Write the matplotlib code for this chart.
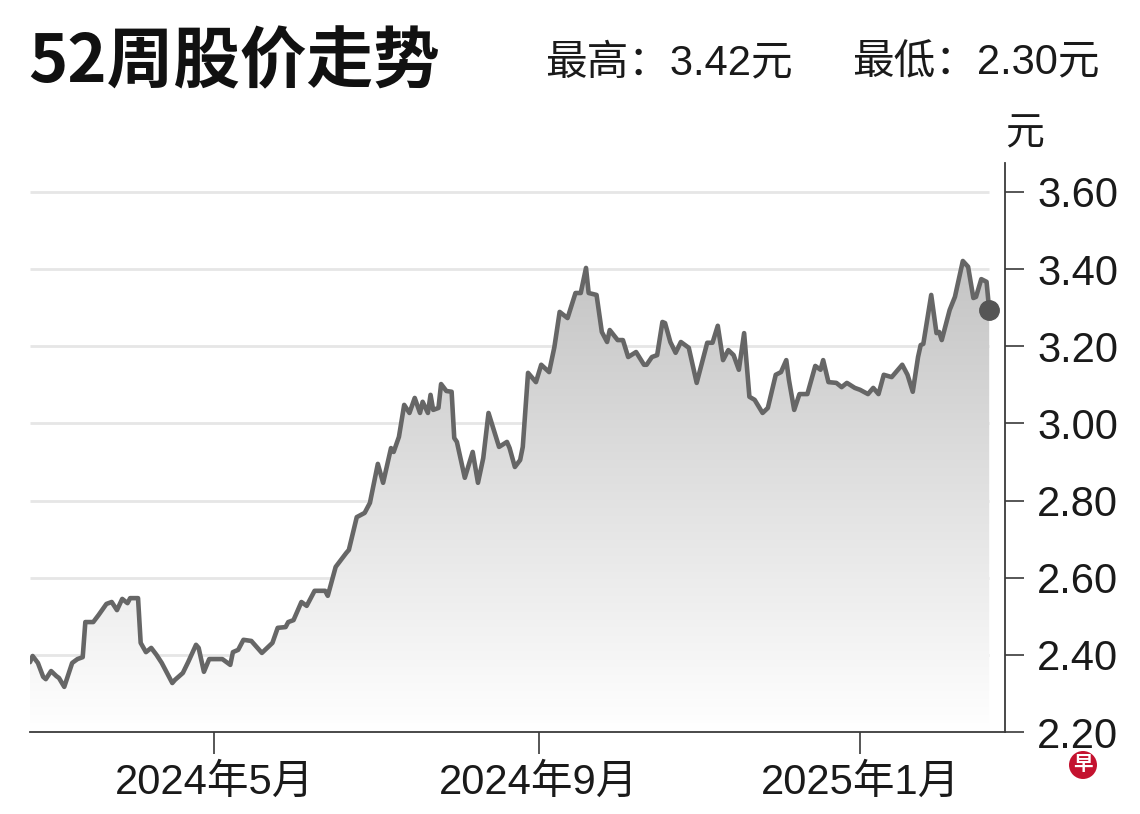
import numpy as np
import pandas as pd
import matplotlib
matplotlib.use('Agg')
import matplotlib.pyplot as plt
import matplotlib.dates as mdates
from matplotlib import font_manager
from matplotlib.colors import LinearSegmentedColormap
from matplotlib.patches import Ellipse

# Datos (precio de cierre aproximado, en 元)
fechas = [
    '2024-02-21', '2024-02-22', '2024-02-24', '2024-02-26', '2024-02-27', '2024-02-29', '2024-03-02', '2024-03-03', '2024-03-05', '2024-03-08',
    '2024-03-10', '2024-03-12', '2024-03-13', '2024-03-16', '2024-03-18', '2024-03-21', '2024-03-23', '2024-03-25', '2024-03-27', '2024-03-29',
    '2024-03-30', '2024-04-02', '2024-04-03', '2024-04-05', '2024-04-07', '2024-04-09', '2024-04-11', '2024-04-15', '2024-04-16', '2024-04-19',
    '2024-04-21', '2024-04-24', '2024-04-25', '2024-04-27', '2024-04-29', '2024-05-04', '2024-05-07', '2024-05-08', '2024-05-10', '2024-05-12',
    '2024-05-15', '2024-05-19', '2024-05-23', '2024-05-25', '2024-05-28', '2024-05-29', '2024-05-31', '2024-06-03', '2024-06-05', '2024-06-08',
    '2024-06-12', '2024-06-13', '2024-06-16', '2024-06-20', '2024-06-21', '2024-06-24', '2024-06-27', '2024-06-29', '2024-07-02', '2024-07-04',
    '2024-07-07', '2024-07-08', '2024-07-10', '2024-07-12', '2024-07-14', '2024-07-16', '2024-07-18', '2024-07-19', '2024-07-21', '2024-07-22',
    '2024-07-23', '2024-07-25', '2024-07-26', '2024-07-28', '2024-07-30', '2024-07-31', '2024-08-01', '2024-08-04', '2024-08-07', '2024-08-09',
    '2024-08-11', '2024-08-13', '2024-08-17', '2024-08-20', '2024-08-21', '2024-08-23', '2024-08-25', '2024-08-26', '2024-08-28', '2024-08-31',
    '2024-09-02', '2024-09-05', '2024-09-07', '2024-09-09', '2024-09-12', '2024-09-15', '2024-09-17', '2024-09-19', '2024-09-20', '2024-09-23',
    '2024-09-25', '2024-09-27', '2024-09-28', '2024-10-01', '2024-10-03', '2024-10-05', '2024-10-08', '2024-10-11', '2024-10-12', '2024-10-14',
    '2024-10-16', '2024-10-18', '2024-10-19', '2024-10-21', '2024-10-23', '2024-10-25', '2024-10-28', '2024-10-31', '2024-11-04', '2024-11-06',
    '2024-11-08', '2024-11-10', '2024-11-12', '2024-11-14', '2024-11-16', '2024-11-18', '2024-11-20', '2024-11-22', '2024-11-25', '2024-11-27',
    '2024-11-30', '2024-12-02', '2024-12-04', '2024-12-05', '2024-12-07', '2024-12-09', '2024-12-12', '2024-12-15', '2024-12-17', '2024-12-18',
    '2024-12-20', '2024-12-23', '2024-12-25', '2024-12-27', '2024-12-30', '2025-01-01', '2025-01-04', '2025-01-06', '2025-01-08', '2025-01-10',
    '2025-01-13', '2025-01-17', '2025-01-19', '2025-01-21', '2025-01-23', '2025-01-24', '2025-01-25', '2025-01-28', '2025-01-30', '2025-01-31',
    '2025-02-01', '2025-02-04', '2025-02-06', '2025-02-09', '2025-02-11', '2025-02-13', '2025-02-14', '2025-02-16', '2025-02-18', '2025-02-19',
]
precios = [
    2.381, 2.397, 2.379, 2.343, 2.337, 2.358, 2.345, 2.340, 2.317, 2.379,
    2.389, 2.394, 2.485, 2.485, 2.503, 2.532, 2.537, 2.516, 2.545, 2.534,
    2.547, 2.547, 2.431, 2.407, 2.418, 2.400, 2.379, 2.327, 2.335, 2.353,
    2.381, 2.426, 2.418, 2.356, 2.389, 2.389, 2.374, 2.407, 2.413, 2.439,
    2.436, 2.405, 2.431, 2.470, 2.472, 2.485, 2.490, 2.537, 2.527, 2.566,
    2.566, 2.553, 2.628, 2.664, 2.672, 2.757, 2.768, 2.794, 2.895, 2.846,
    2.936, 2.926, 2.965, 3.048, 3.027, 3.066, 3.027, 3.056, 3.027, 3.074,
    3.035, 3.040, 3.102, 3.084, 3.082, 2.962, 2.952, 2.859, 2.926, 2.846,
    2.910, 3.027, 2.939, 2.952, 2.936, 2.887, 2.905, 2.939, 3.131, 3.107,
    3.152, 3.133, 3.198, 3.289, 3.273, 3.338, 3.338, 3.403, 3.338, 3.333,
    3.237, 3.211, 3.242, 3.216, 3.216, 3.172, 3.185, 3.152, 3.152, 3.172,
    3.177, 3.263, 3.260, 3.211, 3.183, 3.211, 3.196, 3.105, 3.209, 3.209,
    3.253, 3.164, 3.190, 3.177, 3.139, 3.234, 3.069, 3.061, 3.027, 3.040,
    3.126, 3.133, 3.164, 3.113, 3.035, 3.076, 3.076, 3.149, 3.139, 3.164,
    3.107, 3.105, 3.094, 3.105, 3.092, 3.087, 3.076, 3.092, 3.076, 3.126,
    3.120, 3.152, 3.126, 3.082, 3.172, 3.203, 3.206, 3.333, 3.234, 3.237,
    3.216, 3.294, 3.328, 3.421, 3.406, 3.325, 3.328, 3.374, 3.367, 3.294,
]

titulo = '52周股价走势'
texto_max = '最高：3.42元'
texto_min = '最低：2.30元'
unidad = '元'
marcas_y = [2.20, 2.40, 2.60, 2.80, 3.00, 3.20, 3.40, 3.60]
marcas_x = ['2024-05-01', '2024-09-01', '2025-01-01']
etiquetas_x = ['2024年5月', '2024年9月', '2025年1月']

# Fuentes: dígitos estrechos + CJK
nombres = {f.name for f in font_manager.fontManager.ttflist}
estrecha = 'Liberation Sans Narrow' if 'Liberation Sans Narrow' in nombres else 'Liberation Sans'
fam_num = [estrecha, 'Noto Sans CJK SC', 'DejaVu Sans']
fam_cjk = ['Noto Sans CJK SC', 'DejaVu Sans']
plt.rcParams['font.family'] = fam_num

serie = pd.Series(precios, index=pd.to_datetime(fechas))

fig = plt.figure(figsize=(11.4, 8.14), dpi=100)
ax = fig.add_axes([30 / 1140, 1 - 732 / 814, 975 / 1140, 569 / 814])

x = mdates.date2num(serie.index.to_pydatetime())
y = serie.values

# Relleno con degradado
poli = ax.fill_between(x, y, 2.2, facecolor='none', edgecolor='none')
cmap = LinearSegmentedColormap.from_list('gris', ['#ffffff', '#c4c4c4'])
grad = np.linspace(0, 1, 256).reshape(-1, 1)
im = ax.imshow(grad, cmap=cmap, aspect='auto', origin='lower',
               extent=[x[0], x[-1], 2.2, y.max()], zorder=1)
im.set_clip_path(poli.get_paths()[0], ax.transData)

# Líneas de cuadrícula
ax.hlines(marcas_y[1:], x[0], x[-1], colors='#e6e6e6', linewidth=2, zorder=0.5)

ax.plot(x, y, color='#666666', linewidth=3.3, zorder=3,
        solid_joinstyle='round', solid_capstyle='round')
ax.plot(x[-1], y[-1], 'o', color='#555555', markersize=14, zorder=4)

xmin = mdates.date2num(pd.Timestamp('2024-02-21'))
xmax = mdates.date2num(pd.Timestamp('2025-02-25'))
ax.set_xlim(xmin, xmax)
ax.set_ylim(2.20, 3.675)

for s in ['left', 'top']:
    ax.spines[s].set_visible(False)
for s in ['right', 'bottom']:
    ax.spines[s].set_color('#3a3a3a')
    ax.spines[s].set_linewidth(1.3)

ax.yaxis.tick_right()
ax.set_yticks(marcas_y)
ax.set_yticklabels([f'{v:.2f}' for v in marcas_y])
ax.tick_params(axis='y', direction='out', length=14, width=1.2, color='#3a3a3a',
               labelsize=30, labelcolor='#1a1a1a', pad=9)

ax.set_xticks(mdates.date2num(pd.to_datetime(marcas_x).to_pydatetime()))
ax.set_xticklabels(etiquetas_x)
ax.tick_params(axis='x', direction='out', length=16, width=1.2, color='#3a3a3a',
               labelsize=30, labelcolor='#1a1a1a', pad=6)
for t in ax.get_xticklabels() + ax.get_yticklabels():
    t.set_family(fam_num)

# Textos de cabecera
fig.text(28 / 1140, 1 - 63 / 814, titulo, fontsize=48, fontweight='bold',
         family=fam_cjk, va='center', ha='left', color='#111111')
fig.text(793 / 1140, 1 - 63 / 814, texto_max, fontsize=30, family=fam_num,
         va='center', ha='right', color='#1a1a1a')
fig.text(1100 / 1140, 1 - 63 / 814, texto_min, fontsize=30, family=fam_num,
         va='center', ha='right', color='#1a1a1a')
fig.text(1025 / 1140, 1 - 133 / 814, unidad, fontsize=28, family=fam_cjk,
         va='center', ha='center', color='#1a1a1a')

# Logotipo
logo = Ellipse((1083 / 1140, 1 - 765 / 814), 28 / 1140, 28 / 814,
               transform=fig.transFigure, facecolor='#c4122f', edgecolor='none')
fig.add_artist(logo)
fig.text(1083 / 1140, 1 - 765 / 814, '早', fontsize=14, fontweight='bold',
         family=fam_cjk, color='white', ha='center', va='center')

fig.savefig('out.png', dpi=100, facecolor='white')
